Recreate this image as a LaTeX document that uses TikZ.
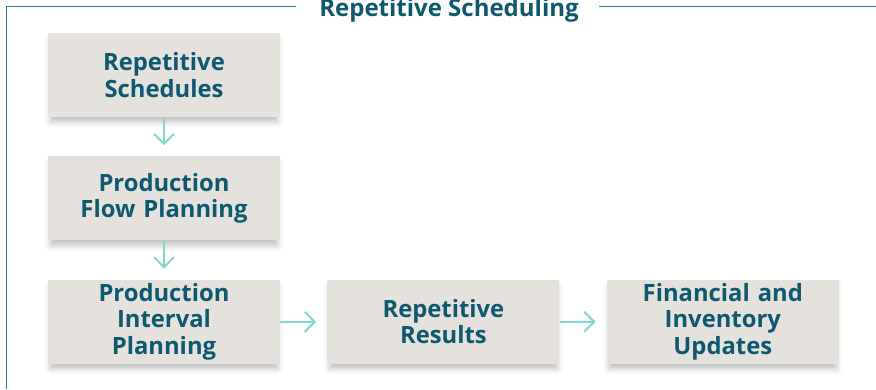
\documentclass[tikz,border=0pt]{standalone}
\usepackage{fontspec}
\setmainfont{Open Sans}
\usetikzlibrary{arrows.meta,positioning,shadows.blur}
\definecolor{boxfill}{RGB}{229,226,222}
\definecolor{textteal}{RGB}{14,88,112}
\definecolor{framecol}{RGB}{42,124,158}
\definecolor{arrowcol}{RGB}{125,216,205}
\tikzset{
	x=1pt,y=1pt,node distance =39pt and 47pt,
	stage/.style ={fill=boxfill, text=textteal, align=center, inner sep=0pt,
		minimum width=232pt, minimum height=84pt, text width=226pt,
		font=\bfseries\fontsize{23.8}{26.5}\selectfont,
		blur shadow={shadow xshift=0pt, shadow yshift=-6pt, shadow blur radius=6pt, shadow opacity=25, shadow scale=0.98}},
	flow/.style = {-{Straight Barb[length=10pt,width=20pt]}, draw=arrowcol, line width=2pt, shorten >=11pt},
	frame/.style = {draw=framecol, line width=1.5pt},
	heading/.style = {text=textteal, font=\bfseries\fontsize{24}{28}\selectfont, inner sep=0pt}
}
\begin{document}
\begin{tikzpicture}

    \useasboundingbox (0,0) rectangle (876,-389);
    \node[heading, anchor=base] (title) at (449,-16.5) {Repetitive Scheduling};
    \draw[frame] (296,-6.5) -- (6.5,-6.5) -- (6.5,-389);
    \draw[frame] (599,-6.5) -- (876,-6.5);

    \node[stage] (1) at (164,-75) {Repetitive\\Schedules};
    \node[stage] (2) [below = of 1] {Production\\Flow Planning};
    \node[stage] (3) [below = of 2] {Production\\Interval\\Planning};
    \node[stage] (4) [right = of 3] {Repetitive\\Results};
    \node[stage] (5) [right = of 4] {Financial and\\Inventory\\Updates};

    \path (1) edge[flow] (2);
    \path (2) edge[flow] (3);
    \path (3) edge[flow] (4);
    \path (4) edge[flow] (5);

\end{tikzpicture}
\end{document}
